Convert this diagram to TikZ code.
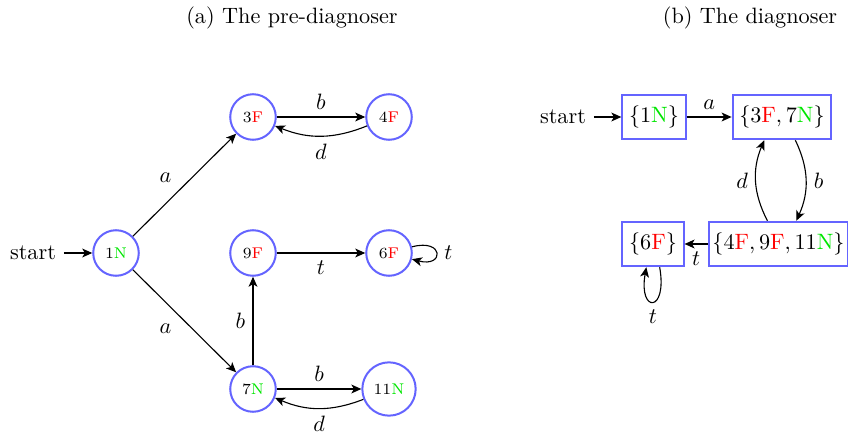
\documentclass[tikz,border=0pt]{standalone}
\usetikzlibrary{arrows.meta}
\definecolor{nodeblue}{RGB}{100,100,255}
\definecolor{fgreen}{RGB}{0,230,0}
\newcommand{\Fc}{\textcolor{red}{F}}
\newcommand{\Nc}{\textcolor{fgreen}{N}}
\newcommand{\mF}{\textcolor{red}{\mathrm{F}}}
\newcommand{\mN}{\textcolor{fgreen}{\mathrm{N}}}
\begin{document}
\begin{tikzpicture}[x=0.45pt,y=-0.45pt,
  >={Stealth[length=4.5pt,width=4pt,inset=1.2pt]},
  st/.style={circle,draw=nodeblue,line width=0.9pt,minimum size=20.5pt,inner sep=0pt,font=\scriptsize},
  bst/.style={circle,draw=nodeblue,line width=0.9pt,minimum size=24pt,inner sep=0pt,font=\scriptsize},
  dst/.style={rectangle,draw=nodeblue,line width=0.9pt,minimum height=20pt,inner sep=3pt},
  edge/.style={->,line width=0.5pt}]
\useasboundingbox (0,0) rectangle (848,438);
% captions
\node (capa) at (292,18) {(a)~The pre-diagnoser};
\node (capb) at (750,18) {(b)~The diagnoser};
% (a)
\node (s1) at (33,253) {start};
\node[st] (n1) at (116,253) {1\Nc};
\node[st] (n3) at (253,117) {3\Fc};
\node[st] (n4) at (389,117) {4\Fc};
\node[st] (n9) at (253,253) {9\Fc};
\node[st] (n6) at (389,253) {6\Fc};
\node[st] (n7) at (253,389) {7\Nc};
\node[bst] (n11) at (389,389) {11\Nc};
\draw[edge] (s1) -- (n1);
\draw[edge] (n1) -- node[above left,pos=0.45] {$a$} (n3);
\draw[edge] (n1) -- node[below left,pos=0.45] {$a$} (n7);
\draw[edge] (n3) -- node[above] {$b$} (n4);
\draw[edge] (n4) to[bend left=22] node[below] {$d$} (n3);
\draw[edge] (n9) -- node[below] {$t$} (n6);
\draw[edge] (n6) to[out=15,in=-15,looseness=7] node[right] {$t$} (n6);
\draw[edge] (n7) -- node[left] {$b$} (n9);
\draw[edge] (n7) -- node[above] {$b$} (n11);
\draw[edge] (n11) to[bend left=22] node[below] {$d$} (n7);
% (b)
\node (s2) at (563,117) {start};
\node[dst] (d1) at (654,117) {$\{1\mN\}$};
\node[dst] (d37) at (782,117) {$\{3\mF,7\mN\}$};
\node[dst,inner xsep=1.6pt] (d4911) at (778.5,244) {$\{4\mF,9\mF,11\mN\}$};
\node[dst] (d6) at (653,244) {$\{6\mF\}$};
\draw[edge] (s2) -- (d1);
\draw[edge] (d1) -- node[above] {$a$} (d37);
\draw[edge] ([xshift=6pt]d37.south) to[bend left=25] node[right] {$b$} ([xshift=8pt]d4911.north);
\draw[edge] ([xshift=-5pt]d4911.north) to[bend left=25] node[left] {$d$} ([xshift=-8pt]d37.south);
\draw[edge] (d4911) -- node[below] {$t$} (d6);
\draw[edge] ([xshift=3pt]d6.south) to[out=-80,in=-100,looseness=9] node[below] {$t$} ([xshift=-3pt]d6.south);
\end{tikzpicture}
\end{document}
